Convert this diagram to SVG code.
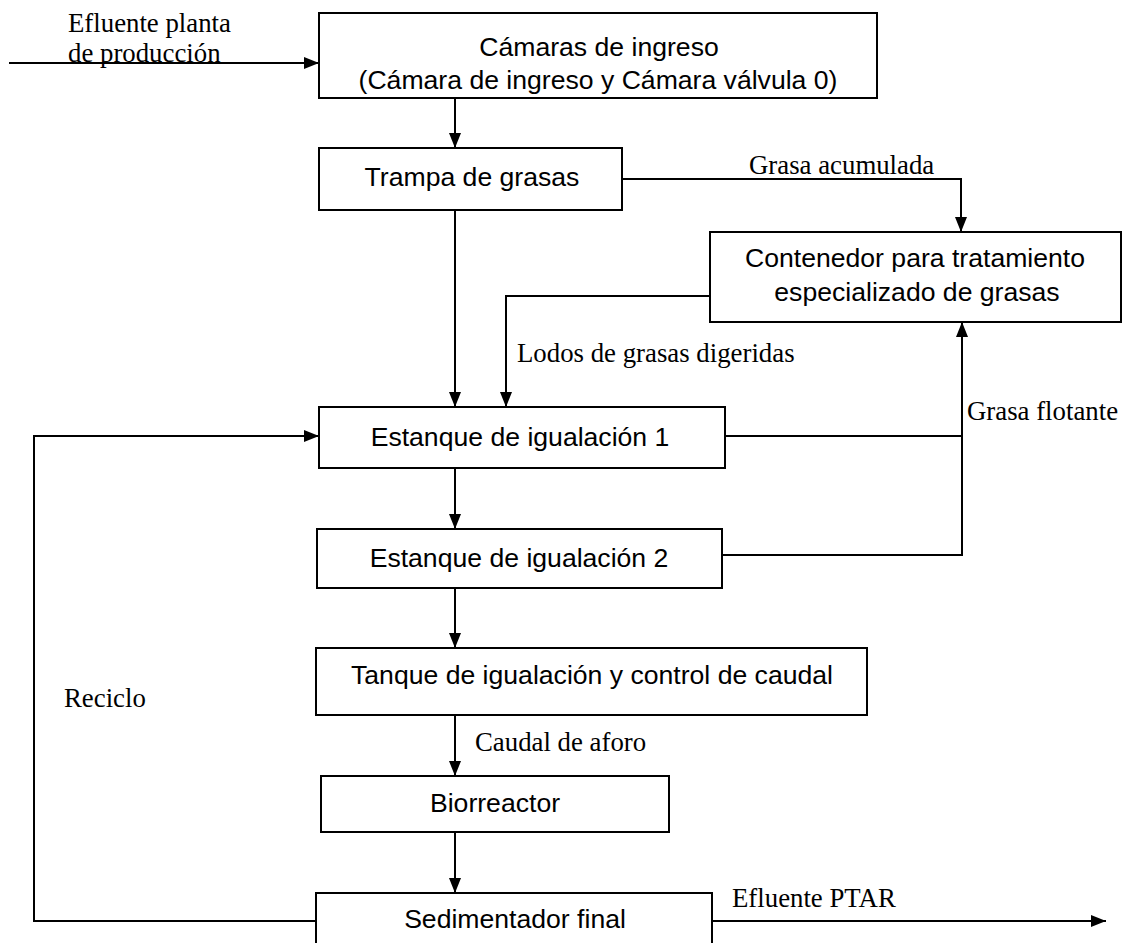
<svg xmlns="http://www.w3.org/2000/svg" width="1125" height="943" viewBox="0 0 1125 943">
<defs>
<marker id="ah" markerWidth="15" markerHeight="12" refX="15" refY="6" orient="auto" markerUnits="userSpaceOnUse">
<path d="M0,0 L15,6 L0,12 Z" fill="#000"/>
</marker>
<style>
.box{fill:#fff;stroke:#000;stroke-width:2}
.n{font-family:"Liberation Sans",Arial,sans-serif;font-size:26.6px;fill:#000;text-anchor:middle}
.l{font-family:"Liberation Serif","Times New Roman",serif;font-size:26.8px;fill:#000}
.c{fill:none;stroke:#000;stroke-width:2}
</style>
</defs>
<rect width="1125" height="943" fill="#fff"/>
<g id="connectors">
<path class="c" d="M9,63 H319" marker-end="url(#ah)"/>
<path class="c" d="M455,98 V148" marker-end="url(#ah)"/>
<path class="c" d="M622,179 H961 V232" marker-end="url(#ah)"/>
<path class="c" d="M455,210 V407" marker-end="url(#ah)"/>
<path class="c" d="M710,296 H506 V407" marker-end="url(#ah)"/>
<path class="c" d="M725,436 H962"/>
<path class="c" d="M722,555 H962 V322" marker-end="url(#ah)"/>
<path class="c" d="M455,468 V529" marker-end="url(#ah)"/>
<path class="c" d="M455,588 V648" marker-end="url(#ah)"/>
<path class="c" d="M455,715 V776" marker-end="url(#ah)"/>
<path class="c" d="M455,832 V893" marker-end="url(#ah)"/>
<path class="c" d="M712,921 H1106" marker-end="url(#ah)"/>
<path class="c" d="M316,921 H34 V436 H319" marker-end="url(#ah)"/>
<text class="l" x="68" y="32">Efluente planta</text>
<text class="l" x="68" y="62">de producción</text>
<text class="l" x="749" y="174">Grasa acumulada</text>
<text class="l" x="517" y="362">Lodos de grasas digeridas</text>
<text class="l" x="967" y="420">Grasa flotante</text>
<text class="l" x="64" y="707">Reciclo</text>
<text class="l" x="475" y="751">Caudal de aforo</text>
<text class="l" x="732" y="907">Efluente PTAR</text>
</g>
<g id="camaras">
<rect class="box" x="319" y="13" width="558" height="85"/>
<text class="n" x="599" y="56">Cámaras de ingreso</text>
<text class="n" x="598" y="89">(Cámara de ingreso y Cámara válvula 0)</text>
</g>
<g id="trampa">
<rect class="box" x="319" y="148" width="303" height="62"/>
<text class="n" x="472" y="186">Trampa de grasas</text>
</g>
<g id="contenedor">
<rect class="box" x="710" y="232" width="411" height="90"/>
<text class="n" x="915" y="267">Contenedor para tratamiento</text>
<text class="n" x="917" y="301">especializado de grasas</text>
</g>
<g id="estanque1">
<rect class="box" x="319" y="407" width="406" height="61"/>
<text class="n" x="520" y="446">Estanque de igualación 1</text>
</g>
<g id="estanque2">
<rect class="box" x="317" y="529" width="405" height="59"/>
<text class="n" x="519" y="567">Estanque de igualación 2</text>
</g>
<g id="tanque">
<rect class="box" x="316" y="648" width="551" height="67"/>
<text class="n" x="592" y="684">Tanque de igualación y control de caudal</text>
</g>
<g id="biorreactor">
<rect class="box" x="321" y="776" width="348" height="56"/>
<text class="n" x="495" y="812">Biorreactor</text>
</g>
<g id="sedimentador">
<rect class="box" x="316" y="893" width="396" height="60"/>
<text class="n" x="515" y="928">Sedimentador final</text>
</g>
</svg>
